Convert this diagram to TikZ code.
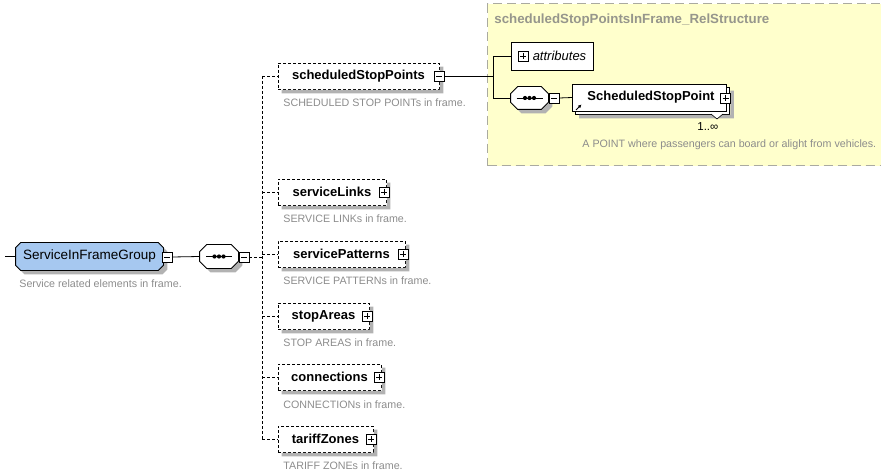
\documentclass[tikz,border=0pt]{standalone}
\usepackage{fontspec}
\setmainfont{Liberation Sans}
\usetikzlibrary{arrows.meta}
\definecolor{grpblue}{RGB}{166,200,240}
\definecolor{panelfill}{RGB}{255,255,204}
\definecolor{panelline}{RGB}{170,170,160}
\definecolor{descgray}{RGB}{140,140,140}
\definecolor{titlegray}{RGB}{150,150,140}
\definecolor{sdwcol}{RGB}{178,178,178}
\newcommand{\chambox}[3]{%
  \path[draw=none,fill=sdwcol] ([xshift=#2+4pt,yshift=-4pt]#1.north west) -- ([xshift=-#2+4pt,yshift=-4pt]#1.north east) -- ([xshift=4pt,yshift=-#2-4pt]#1.north east) -- ([xshift=4pt,yshift=#2-4pt]#1.south east) -- ([xshift=-#2+4pt,yshift=-4pt]#1.south east) -- ([xshift=#2+4pt,yshift=-4pt]#1.south west) -- ([xshift=4pt,yshift=#2-4pt]#1.south west) -- ([xshift=4pt,yshift=-#2-4pt]#1.north west) -- cycle;
  \path[draw,fill=#3,line width=0.8pt] ([xshift=#2]#1.north west) -- ([xshift=-#2]#1.north east) -- ([yshift=-#2]#1.north east) -- ([yshift=#2]#1.south east) -- ([xshift=-#2]#1.south east) -- ([xshift=#2]#1.south west) -- ([yshift=#2]#1.south west) -- ([yshift=-#2]#1.north west) -- cycle;}
\newcommand{\boxshadow}[1]{%
  \path[draw=none,fill=sdwcol] ([xshift=0.4pt,yshift=-4pt]#1.north east) -- ([xshift=4pt,yshift=-4pt]#1.north east) -- ([xshift=4pt,yshift=-4pt]#1.south east) -- ([xshift=4pt,yshift=-4pt]#1.south west) -- ([xshift=4pt,yshift=-0.4pt]#1.south west) -- ([xshift=0.4pt,yshift=-0.4pt]#1.south east) -- cycle;}
\newcommand{\seqdots}[1]{%
  \draw[line width=0.9pt] ([xshift=-13pt]#1.center) -- ([xshift=13pt]#1.center);
  \foreach \dx in {-4.5,0,4.5} \fill ([xshift=\dx pt]#1.center) circle (2.1pt);}
\begin{document}
\begin{tikzpicture}[x=1pt,y=-1pt,line width=0.8pt,
  grp/.style={inner sep=0pt,minimum height=27pt},
  grptext/.style={inner sep=0pt,font=\fontsize{13.5}{15}\selectfont},
  seqbox/.style={inner sep=0pt,minimum width=38pt,minimum height=23pt},
  child/.style={draw,dash pattern=on 3pt off 2pt,fill=white,inner sep=0pt,
    minimum height=26pt,font=\fontsize{13}{15}\selectfont\bfseries},
  pmbox/.style={draw,fill=white,minimum size=10pt,inner sep=0pt,line width=0.7pt},
  plusbox/.style={pmbox,path picture={
      \draw ([xshift=2pt]path picture bounding box.west) -- ([xshift=-2pt]path picture bounding box.east);
      \draw ([yshift=-2pt]path picture bounding box.north) -- ([yshift=2pt]path picture bounding box.south);}},
  minusbox/.style={pmbox,path picture={
      \draw ([xshift=2pt]path picture bounding box.west) -- ([xshift=-2pt]path picture bounding box.east);}},
  desc/.style={anchor=west,inner sep=0pt,text=descgray,font=\fontsize{10.7}{12}\selectfont},
  conn/.style={line width=0.8pt},
  dconn/.style={line width=0.8pt,dash pattern=on 3pt off 2pt}
]
\useasboundingbox (0,0) rectangle (881,473);

% right panel
\node[draw=panelline,fill=panelfill,line width=1.4pt,dash pattern=on 9pt off 5pt,
  anchor=north west,minimum width=395pt,minimum height=162pt,inner sep=0pt] (panel) at (487,3) {};
\node[anchor=west,inner sep=0pt,text=titlegray,font=\fontsize{13.3}{15}\selectfont\bfseries] (title) at (494,20) {scheduledStopPointsInFrame\_RelStructure};

% group
\coordinate (in) at (5,256.5);
\node[grp,minimum width=147pt] (sifg) at (89.5,256.5) {};
\chambox{sifg}{5pt}{grpblue}
\node[grptext] (sifgt) at (sifg.center) {ServiceInFrameGroup};
\node[minusbox] (sifgm) at (167,257) {};
\node[desc] (sifgd) at (19,284) {Service related elements in frame.};
\draw[conn] (in) -- (sifg.west);

\node[seqbox] (seq) at (219,256.5) {};
\chambox{seq}{7pt}{white}
\seqdots{seq}
\node[minusbox] (seqm) at (244,257) {};
\draw[conn] (sifgm.east) -- (seq.west);

\coordinate (bus) at (262,257);
\coordinate (bustop) at (262,76);
\coordinate (busbot) at (262,439);
\draw[dconn] (seqm.east) -- (bus);
\draw[dconn] (bustop) -- (busbot);

% children
\node[child,minimum width=161pt] (ssp) at (358.5,76) {scheduledStopPoints};
\node[child,minimum width=108pt] (sl) at (332,192) {serviceLinks};
\node[child,minimum width=127pt] (sp) at (341.5,254) {servicePatterns};
\node[child,minimum width=91pt] (sa) at (323.5,316) {stopAreas};
\node[child,minimum width=103pt] (cn) at (329.5,377) {connections};
\node[child,minimum width=95pt] (tz) at (325.5,439) {tariffZones};
\boxshadow{ssp}
\boxshadow{sl}
\boxshadow{sp}
\boxshadow{sa}
\boxshadow{cn}
\boxshadow{tz}

\node[minusbox] (sspm) at ([xshift=0pt]ssp.east) {};
\node[plusbox] (slp) at ([xshift=-2pt]sl.east) {};
\node[plusbox] (spp) at ([xshift=-2pt]sp.east) {};
\node[plusbox] (sap) at ([xshift=-2pt]sa.east) {};
\node[plusbox] (cnp) at ([xshift=-2pt]cn.east) {};
\node[plusbox] (tzp) at ([xshift=-2pt]tz.east) {};

\foreach \n in {ssp,sl,sp,sa,cn,tz} \draw[dconn] (\n.west -| bus) -- (\n.west);

\node[desc] (sspd) at (283,103) {SCHEDULED STOP POINTs in frame.};
\node[desc] (sld) at (283,219) {SERVICE LINKs in frame.};
\node[desc] (spd) at (283,281) {SERVICE PATTERNs in frame.};
\node[desc] (sad) at (283,343) {STOP AREAS in frame.};
\node[desc] (cnd) at (283,405) {CONNECTIONs in frame.};
\node[desc] (tzd) at (283,466) {TARIFF ZONEs in frame.};

% panel content
\coordinate (fork) at (493,76);
\node[draw,fill=white,minimum width=82pt,minimum height=28pt,inner sep=0pt,
  font=\fontsize{13}{15}\selectfont\itshape] (attr) at (552,56) {\hspace{15pt}attributes};
\node[plusbox] (attrp) at (523,56) {};
\node[seqbox,minimum width=37pt,minimum height=22pt] (seq2) at (529.5,98) {};
\chambox{seq2}{7pt}{white}
\seqdots{seq2}
\node[minusbox] (seq2m) at (554,98) {};

\node[draw,fill=white,minimum width=154pt,minimum height=27pt,inner sep=0pt] (sspb) at (652.5,100.5) {};
\boxshadow{sspb}
\node[draw,fill=white,minimum width=154pt,minimum height=27pt,inner sep=0pt,
  font=\fontsize{13}{15}\selectfont\bfseries] (sspt) at (649.5,97.5) {\hspace{3pt}ScheduledStopPoint\hspace{12pt}};
\node[plusbox] (ssptp) at (725.5,98) {};
\coordinate (ra) at (576,110);
\coordinate (rb) at (581.5,104.5);
\draw[line width=0.9pt,-{Latex[length=3.5pt,width=3.5pt]}] (ra) -- (rb);
\coordinate (v1) at (711,114);
\coordinate (v2) at (717,119);
\coordinate (v3) at (723,114);
\draw[line width=0.6pt,fill=white] (v1) -- (v2) -- (v3);
\node[anchor=west,inner sep=0pt,font=\fontsize{11.5}{13}\selectfont] (mult) at (697,127) {1..∞};
\node[desc] (sspdesc) at (582,145) {A POINT where passengers can board or alight from vehicles.};

\draw[conn] (sspm.east) -- (fork);
\draw[conn] (attr.west) -- (attr.west -| fork) -- (seq2.west -| fork) -- (seq2.west);
\draw[conn] (seq2m.east) -- (sspt.west);
\end{tikzpicture}
\end{document}
